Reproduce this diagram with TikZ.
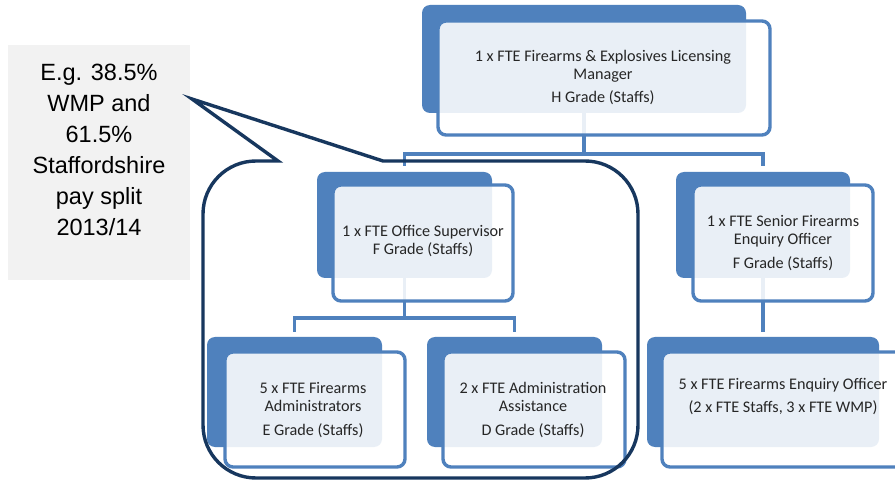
\documentclass[tikz,border=0pt]{standalone}
\usepackage{fontspec}
\setmainfont{Liberation Sans}
\newfontfamily\boxfont{Carlito}
\usetikzlibrary{calc}
\definecolor{accent}{HTML}{4F81BD}
\definecolor{navy}{HTML}{17375E}
\definecolor{graybg}{HTML}{F2F2F2}
\begin{document}
\begin{tikzpicture}[x=1pt,y=-1pt,
  back/.style={draw=none,fill=accent,rounded corners=8pt,inner sep=0pt},
  front/.style={draw=accent,line width=3.4pt,fill=white,fill opacity=0.88,rounded corners=8pt,inner sep=0pt},
  boxtext/.style={font=\boxfont\fontsize{16.2}{18}\selectfont,align=center,text=black!85,inner sep=0pt},
  conn/.style={draw=accent,line width=3.4pt},
  callout/.style={draw=navy,line width=3.4pt,line join=miter},
  notebox/.style={fill=graybg,draw=none,inner sep=0pt},
  notetext/.style={font=\fontsize{23.5}{31}\selectfont,align=center,text=black,inner sep=0pt},
]
\clip (0,0) rectangle (895,481);
\fill[white] (0,0) rectangle (895,481);

% note box
\node[notebox,minimum width=182pt,minimum height=235pt] (note) at (99,162.5) {};
\node[notetext] (notet) at (99,150) {E.g. 38.5\%\\WMP and\\61.5\%\\Staffordshire\\pay split\\2013/14};

% bus coordinates
\coordinate (bus1) at (0,154);
\coordinate (bus2) at (0,318);

% back boxes
\node[back,minimum width=324pt,minimum height=108pt] (topB) at (584,59) {};
\node[back,minimum width=175pt,minimum height=106pt] (supB) at (404.5,225) {};
\node[back,minimum width=174pt,minimum height=106pt] (senB) at (763,225) {};
\node[back,minimum width=175pt,minimum height=110pt] (admB) at (294.5,392) {};
\node[back,minimum width=175pt,minimum height=110pt] (assB) at (514.5,392) {};
\node[back,minimum width=232pt,minimum height=110pt] (enqB) at (763,392) {};

% connectors
\draw[conn,shorten >=6pt] (topB.south) -- (topB.south |- bus1) -| (supB.north);
\draw[conn,shorten >=6pt] (topB.south |- bus1) -| (senB.north);
\draw[conn,shorten >=5pt] (supB.south) -- (supB.south |- bus2) -| (admB.north);
\draw[conn,shorten >=5pt] (supB.south |- bus2) -| (assB.north);
\draw[conn,shorten >=5pt] (senB.south) -- (enqB.north);

% front boxes
\node[front,minimum width=332pt,minimum height=114pt] (topF) at (604,78) {};
\node[front,minimum width=180pt,minimum height=116pt] (supF) at (423,243) {};
\node[front,minimum width=180pt,minimum height=116pt] (senF) at (783,243) {};
\node[front,minimum width=180pt,minimum height=115pt] (admF) at (315,409.5) {};
\node[front,minimum width=182pt,minimum height=115pt] (assF) at (534,409.5) {};
\node[front,minimum width=242pt,minimum height=115pt] (enqF) at (783,409.5) {};

% texts
\node[boxtext] (topT) at (603,77.5) {1 x FTE Firearms \& Explosives Licensing\\Manager\\[5pt]H Grade (Staffs)};
\node[boxtext] (supT) at (423,241) {1 x FTE Office Supervisor\\F Grade (Staffs)};
\node[boxtext] (senT) at (783,243) {1 x FTE Senior Firearms\\Enquiry Officer\\[6pt]F Grade (Staffs)};
\node[boxtext] (admT) at (313,410) {5 x FTE Firearms\\Administrators\\[6pt]E Grade (Staffs)};
\node[boxtext] (assT) at (533,410) {2 x FTE Administration\\Assistance\\[6pt]D Grade (Staffs)};
\node[boxtext] (enqT) at (783,396.5) {5 x FTE Firearms Enquiry Officer\\[5pt](2 x FTE Staffs, 3 x FTE WMP)};

% callout outline
\draw[callout] (192,99) -- (278,161) -- (256,161)
  .. controls (226.7,161) and (203,184.7) .. (203,214)
  -- (203,425) .. controls (203,454.3) and (226.7,478) .. (256,478)
  -- (585,478) .. controls (614.3,478) and (638,454.3) .. (638,425)
  -- (638,214) .. controls (638,184.7) and (614.3,161) .. (585,161)
  -- (383,161) -- cycle;
\end{tikzpicture}
\end{document}
